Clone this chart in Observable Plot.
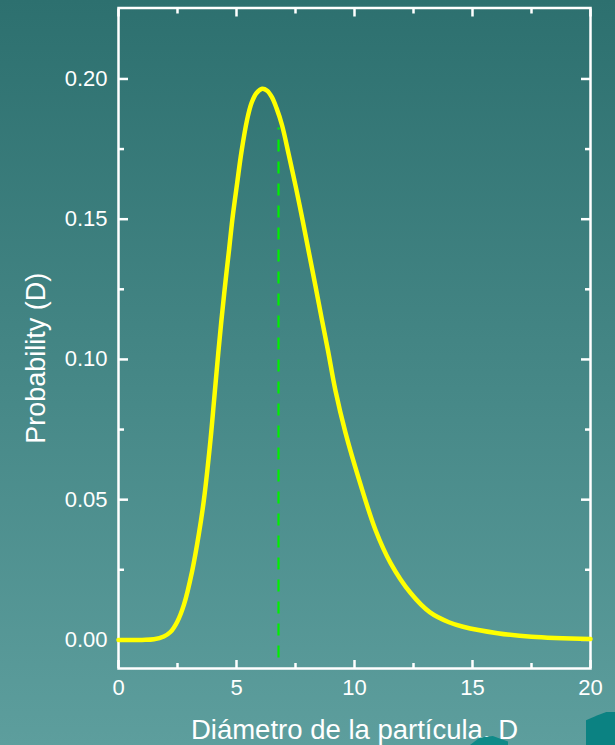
<!DOCTYPE html>
<html>
<head>
<meta charset="utf-8">
<script src="https://cdn.jsdelivr.net/npm/d3@7"></script>
<script src="https://cdn.jsdelivr.net/npm/@observablehq/plot@0.6"></script>
<style>
  html, body { margin: 0; padding: 0; }
  body { width: 615px; height: 745px; overflow: hidden; position: relative;
         background: linear-gradient(#2d706f, #5d9e9d); }
  #chart svg { display: block; }
  .deco1 { position: absolute; left: 586px; top: 712px; width: 29px; height: 33px;
           background: #0b8282; clip-path: polygon(0% 25%, 40% 10%, 70% 0%, 100% 0%, 100% 100%, 0% 100%); }
  .deco2 { position: absolute; left: 470px; top: 736px; width: 38px; height: 9px;
           background: #0f8a88; clip-path: polygon(0% 100%, 25% 20%, 60% 0%, 100% 60%, 100% 100%); }
</style>
</head>
<body>
<div id="chart"></div>
<div class="deco1"></div>
<div class="deco2"></div>
<script>
// Curve
const diameter = [0, 1.0, 1.5, 1.92, 2.2, 2.49, 2.77, 3.12, 3.4, 3.62, 3.9, 4.05, 4.23, 4.38, 4.53, 4.69, 4.84, 5.03, 5.21, 5.45, 5.64, 5.85, 6.09, 6.3, 6.5, 6.7, 6.93, 7.22, 7.53, 7.78, 8.06, 8.35, 8.6, 8.88, 9.19, 9.62, 10.18, 10.89, 11.53, 12.37, 13.2, 14.0, 14.6, 16.06, 17.5, 20];
const probability = [0, 0, 0.0002, 0.0012, 0.0028, 0.0065, 0.0125, 0.0245, 0.0375, 0.050, 0.0715, 0.0855, 0.1025, 0.1155, 0.1275, 0.1395, 0.151, 0.163, 0.174, 0.1855, 0.1915, 0.195, 0.1965, 0.1958, 0.1935, 0.1895, 0.1835, 0.1728, 0.1608, 0.1505, 0.1385, 0.126, 0.115, 0.103, 0.089, 0.0738, 0.0575, 0.0392, 0.0274, 0.0168, 0.0098, 0.0063, 0.0047, 0.0024, 0.0011, 0.0003];

// Dashed marker line (median)
const markerX = [6.78];
const markerBottom = [-0.0065];
const markerTop = [0.1825];

// Ticks
const xMajor = [0, 5, 10, 15, 20];
const xMinor = [2.5, 7.5, 12.5, 17.5];
const yMajor = [0, 0.05, 0.10, 0.15, 0.20];
const yMinor = [0.025, 0.075, 0.125, 0.175];

const xTitle = "Diámetro de la partícula, D";
const yTitle = "Probability (D)";

const curve = diameter.map((d, i) => ({d, p: probability[i]}));
const marker = markerX.map((x, i) => ({x, y1: markerBottom[i], y2: markerTop[i]}));

const W = "white";
const SW = 2.5;

const chart = Plot.plot({
  width: 615,
  height: 745,
  marginLeft: 118,
  marginRight: 25,
  marginTop: 7.5,
  marginBottom: 77,
  style: {background: "transparent", color: W, fontFamily: "'Liberation Sans', Arial, sans-serif", fontSize: "22px"},
  x: {domain: [0, 20]},
  y: {domain: [-0.0102, 0.2253]},
  marks: [
    Plot.frame({stroke: W, strokeWidth: SW}),
    // bottom
    Plot.axisX(xMajor, {anchor: "bottom", tickSize: -8, tickPadding: 19, stroke: W, strokeWidth: SW, fill: W, label: null, tickFormat: d => String(d), fontSize: 22}),
    Plot.axisX(xMinor, {anchor: "bottom", tickSize: -5, stroke: W, strokeWidth: SW, fill: "none", label: null, tickFormat: () => ""}),
    // top
    Plot.axisX(xMajor, {anchor: "top", tickSize: -8, stroke: W, strokeWidth: SW, fill: "none", label: null, tickFormat: () => ""}),
    Plot.axisX(xMinor, {anchor: "top", tickSize: -5, stroke: W, strokeWidth: SW, fill: "none", label: null, tickFormat: () => ""}),
    // left
    Plot.axisY(yMajor, {anchor: "left", tickSize: -10, tickPadding: 21, stroke: W, strokeWidth: SW, fill: W, label: null, tickFormat: d3.format(".2f"), fontSize: 22}),
    Plot.axisY(yMinor, {anchor: "left", tickSize: -6, stroke: W, strokeWidth: SW, fill: "none", label: null, tickFormat: () => ""}),
    // right
    Plot.axisY(yMajor, {anchor: "right", tickSize: -10, stroke: W, strokeWidth: SW, fill: "none", label: null, tickFormat: () => ""}),
    Plot.axisY(yMinor, {anchor: "right", tickSize: -6, stroke: W, strokeWidth: SW, fill: "none", label: null, tickFormat: () => ""}),
    // titles
    Plot.text([xTitle], {frameAnchor: "bottom", dy: 62, text: d => d, fill: W, fontSize: 27.5, lineAnchor: "middle", textAnchor: "middle"}),
    Plot.text([yTitle], {frameAnchor: "left", dx: -82, dy: 20, rotate: -90, text: d => d, fill: W, fontSize: 27, lineAnchor: "middle", textAnchor: "middle"}),
    // dashed marker
    Plot.ruleX(marker, {x: "x", y1: "y1", y2: "y2", stroke: "#00f000", strokeWidth: 2.2, strokeDasharray: "12,10"}),
    // curve
    Plot.line(curve, {x: "d", y: "p", stroke: "#ffff00", strokeWidth: 4.5, curve: "catmull-rom"})
  ]
});
document.getElementById("chart").appendChild(chart);
</script>
</body>
</html>
